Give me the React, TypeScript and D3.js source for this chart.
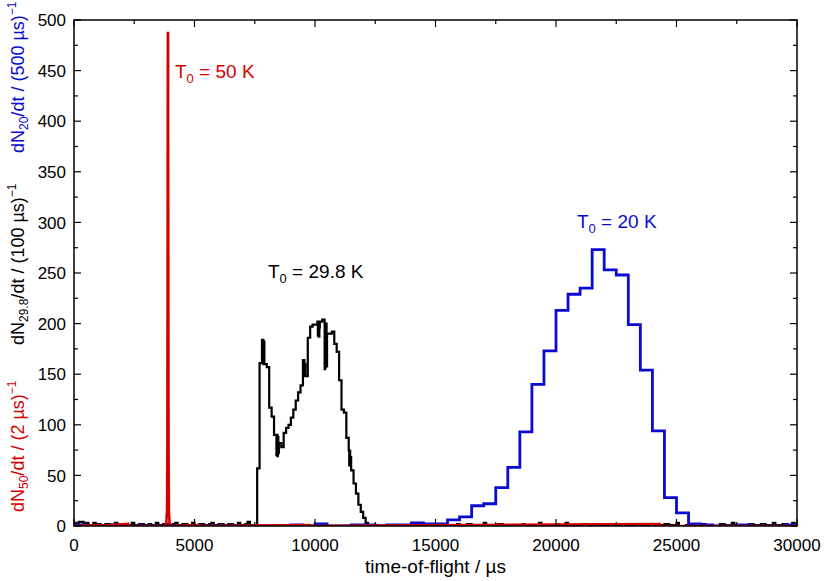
import React from "react";
import * as d3 from "d3";

const W = 830;
const H = 581;
const FONT = "'Liberation Sans', Arial, Helvetica, sans-serif";

const xTicks = [0, 5000, 10000, 15000, 20000, 25000, 30000];
const yTicks = [0, 50, 100, 150, 200, 250, 300, 350, 400, 450, 500];

// dN20/dt, counts per 500 µs bin, bins starting at 0 µs
const blueCounts = [
  1, 0, 0, 1, 0, 0, 0, 0, 0, 0,
  0, 0, 0, 0, 0, 0, 0, 0, 1, 0,
  2, 0, 0, 1, 1, 0, 1, 1, 3, 2,
  2, 6, 9, 20, 22, 38, 58, 93, 140, 173,
  213, 229, 235, 273, 253, 248, 199, 154, 94, 28,
  13, 2, 1, 0, 0, 1, 0, 0, 0, 1,
];

// dN29.8/dt, [start of step / µs, counts per 100 µs]
const blackSteps: [number, number][] = [
  [0, 3], [100, 1], [200, 4], [400, 2], [500, 3], [600, 1], [800, 3], [900, 2],
  [1100, 1], [1300, 2], [1500, 1], [1700, 3], [1800, 1], [2000, 2], [2200, 1],
  [2400, 3], [2500, 1], [2700, 2], [2900, 1], [3100, 2], [3200, 1], [3400, 3],
  [3500, 1], [3700, 2], [3900, 1], [4100, 2], [4200, 3], [4300, 1], [4500, 2],
  [4700, 1], [4900, 3], [5000, 1], [5200, 2], [5400, 1], [5600, 2], [5700, 3],
  [5800, 1], [6000, 2], [6200, 1], [6400, 2], [6600, 1], [6800, 3], [6900, 1],
  [7100, 2], [7200, 4], [7300, 1], [7500, 1],
  [7600, 57], [7700, 161], [7800, 184], [7820, 163], [7840, 184], [7860, 160],
  [7880, 182], [7900, 160], [8000, 157], [8100, 117], [8200, 108], [8300, 90],
  [8400, 70], [8420, 90], [8440, 69], [8460, 88], [8480, 72], [8500, 82],
  [8600, 78], [8700, 92], [8800, 97], [8900, 100], [9000, 107], [9100, 115],
  [9200, 124], [9300, 132], [9400, 139], [9500, 164], [9520, 148], [9540, 164],
  [9560, 148], [9580, 160], [9600, 148], [9700, 186], [9800, 197], [9900, 199],
  [10000, 199], [10100, 202], [10120, 188], [10140, 202], [10160, 187],
  [10180, 196], [10200, 202], [10300, 204], [10400, 155], [10420, 200],
  [10440, 157], [10460, 200], [10480, 158], [10500, 190], [10600, 190],
  [10700, 192], [10800, 180], [10900, 172], [11000, 144], [11100, 115],
  [11200, 112], [11300, 87], [11400, 75], [11420, 60], [11440, 74], [11460, 61],
  [11480, 68], [11500, 55], [11600, 42], [11700, 32], [11800, 21], [11900, 14],
  [12000, 8], [12100, 3], [12200, 1],
  [12300, 0], [12400, 1], [12600, 0], [12900, 1], [13100, 0], [13400, 1],
  [13600, 0], [14000, 1], [14300, 2], [14400, 1], [14700, 0], [15100, 2],
  [15200, 1], [15400, 0], [15700, 1], [15900, 2], [16000, 1], [16300, 2],
  [16500, 1], [16700, 0], [17000, 3], [17100, 1], [17300, 0], [17600, 2],
  [17800, 1], [18000, 0], [18300, 1], [18600, 2], [18700, 0], [19000, 1],
  [19300, 3], [19400, 1], [19600, 0], [20000, 2], [20100, 1], [20400, 3],
  [20500, 1], [20800, 0], [21100, 2], [21300, 1], [21600, 2], [21800, 1],
  [22200, 2], [22400, 1], [22700, 2], [22900, 1], [23300, 2], [23500, 1],
  [23900, 2], [24100, 1], [24500, 2], [24700, 1], [25000, 3], [25100, 0],
  [25400, 1], [25700, 0], [26000, 2], [26200, 1], [26500, 0], [26800, 2],
  [27000, 1], [27300, 3], [27400, 1], [27700, 0], [28000, 2], [28200, 1],
  [28500, 2], [28700, 1], [29000, 3], [29100, 1], [29400, 2], [29600, 1],
  [29800, 3], [29900, 2],
];

// dN50/dt, counts per 2 µs, [tof / µs, counts]
const redPoints: [number, number][] = [
  [0, 0], [1000, 1], [1010, 0], [2250, 2], [2260, 0], [3780, 0], [3830, 3],
  [3860, 15], [3875, 80], [3886, 300], [3894, 487], [3903, 487], [3911, 300],
  [3922, 80], [3937, 15], [3965, 3], [4010, 0], [5200, 1], [5210, 0],
  [9800, 1], [9810, 0], [24300, 2], [24310, 0], [30000, 0],
];

const RED = "#d40000";
const BLUE = "#0a0ad2";

export default function App() {
  const x = d3.scaleLinear().domain([0, 30000]).range([74, 797]);
  const y = d3.scaleLinear().domain([0, 500]).range([526, 20]);

  const step = d3
    .line<[number, number]>()
    .x((d) => x(d[0]))
    .y((d) => y(d[1]))
    .curve(d3.curveStepAfter);
  const lin = d3
    .line<[number, number]>()
    .x((d) => x(d[0]))
    .y((d) => y(d[1]));

  const bluePts: [number, number][] = blueCounts.map((v, i) => [i * 500, v]);
  bluePts.push([30000, blueCounts[blueCounts.length - 1]]);
  const blackPts: [number, number][] = [...blackSteps, [30000, blackSteps[blackSteps.length - 1][1]]];

  const xMinor = d3.range(0, 30001, 2500).filter((v) => !xTicks.includes(v));
  const yMinor = d3.range(0, 501, 25).filter((v) => !yTicks.includes(v));
  const [x0, x1] = x.range();
  const [y0, y1] = y.range();
  const tickFs = 17;
  const fs = 19;
  const sub = 13;
  const yfs = 18;
  const ysub = 12;

  return (
    <div style={{ position: "fixed", left: 0, top: 0 }}>
      <svg width={W} height={H} fontFamily={FONT} style={{ display: "block", background: "#fff" }}>
        <defs>
          <clipPath id="plot">
            <rect x={x0} y={y1} width={x1 - x0} height={y0 - y1} />
          </clipPath>
        </defs>

        <g clipPath="url(#plot)" fill="none" strokeLinejoin="miter">
          <path d={step(blackPts) ?? ""} stroke="#000" strokeWidth={2.2} />
          <path d={step(bluePts) ?? ""} stroke={BLUE} strokeWidth={2.8} />
          <path d={lin(redPoints) ?? ""} stroke={RED} strokeWidth={2.6} />
        </g>

        {/* ticks, inward on all four sides */}
        <g stroke="#000" strokeWidth={1.2}>
          {xTicks.map((t) => (
            <g key={"xt" + t}>
              <line x1={x(t)} x2={x(t)} y1={y0} y2={y0 - 7} />
              <line x1={x(t)} x2={x(t)} y1={y1} y2={y1 + 7} />
            </g>
          ))}
          {xMinor.map((t) => (
            <g key={"xm" + t}>
              <line x1={x(t)} x2={x(t)} y1={y0} y2={y0 - 4} />
              <line x1={x(t)} x2={x(t)} y1={y1} y2={y1 + 4} />
            </g>
          ))}
          {yTicks.map((t) => (
            <g key={"yt" + t}>
              <line x1={x0} x2={x0 + 7} y1={y(t)} y2={y(t)} />
              <line x1={x1} x2={x1 - 7} y1={y(t)} y2={y(t)} />
            </g>
          ))}
          {yMinor.map((t) => (
            <g key={"ym" + t}>
              <line x1={x0} x2={x0 + 4} y1={y(t)} y2={y(t)} />
              <line x1={x1} x2={x1 - 4} y1={y(t)} y2={y(t)} />
            </g>
          ))}
        </g>
        <rect x={x0} y={y1} width={x1 - x0} height={y0 - y1} fill="none" stroke="#000" strokeWidth={1.5} />

        {/* tick labels */}
        <g fontSize={tickFs} fill="#000">
          {xTicks.map((t) => (
            <text key={"xl" + t} x={x(t)} y={y0 + 25} textAnchor="middle">
              {t}
            </text>
          ))}
          {yTicks.map((t) => (
            <text key={"yl" + t} x={x0 - 8} y={y(t)} dy="0.36em" textAnchor="end">
              {t}
            </text>
          ))}
        </g>

        <text x={(x0 + x1) / 2} y={573} fontSize={fs} textAnchor="middle">
          time-of-flight / µs
        </text>

        {/* y-axis label, three colored parts */}
        <g fontSize={yfs}>
          <text transform="translate(24,512) rotate(-90)" fill={RED}>
            dN<tspan fontSize={ysub} dy={4}>50</tspan>
            <tspan dy={-4}>/dt / (2 µs)</tspan>
            <tspan fontSize={ysub} dy={-8}>−1</tspan>
          </text>
          <text transform="translate(24,345) rotate(-90)" fill="#000">
            dN<tspan fontSize={ysub} dy={4}>29.8</tspan>
            <tspan dy={-4}>/dt / (100 µs)</tspan>
            <tspan fontSize={ysub} dy={-8}>−1</tspan>
          </text>
          <text transform="translate(24,153) rotate(-90)" fill={BLUE}>
            dN<tspan fontSize={ysub} dy={4}>20</tspan>
            <tspan dy={-4}>/dt / (500 µs)</tspan>
            <tspan fontSize={ysub} dy={-8}>−1</tspan>
          </text>
        </g>

        {/* series annotations */}
        <g fontSize={fs}>
          <text x={175} y={78} fill={RED}>
            T<tspan fontSize={sub} dy={5}>0</tspan>
            <tspan dy={-5}> = 50 K</tspan>
          </text>
          <text x={268} y={278} fill="#000">
            T<tspan fontSize={sub} dy={5}>0</tspan>
            <tspan dy={-5}> = 29.8 K</tspan>
          </text>
          <text x={577} y={228} fill={BLUE}>
            T<tspan fontSize={sub} dy={5}>0</tspan>
            <tspan dy={-5}> = 20 K</tspan>
          </text>
        </g>
      </svg>
    </div>
  );
}
